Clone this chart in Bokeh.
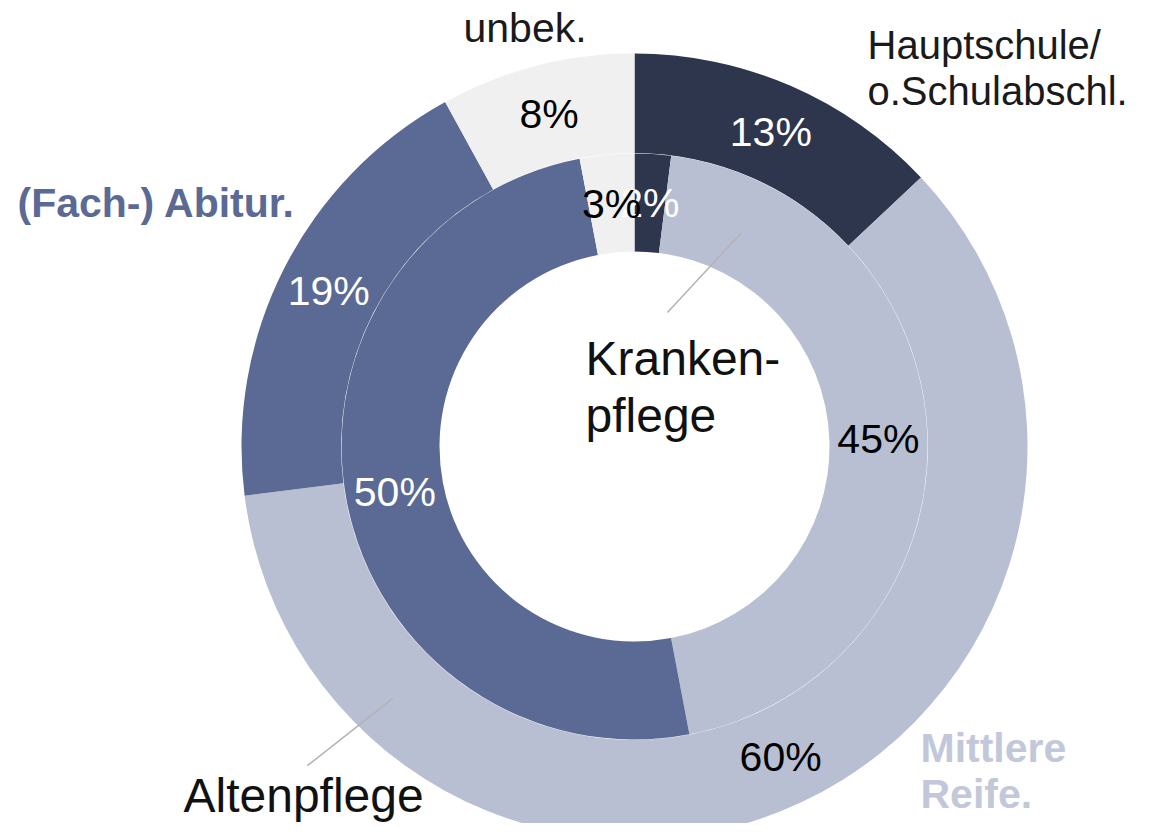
import numpy as np
from bokeh.plotting import figure
from bokeh.models import Range1d, ColumnDataSource
from bokeh.core.properties import value
from bokeh.embed import file_html
from bokeh.resources import INLINE

# ---------------- data ----------------
categories = ["Hauptschule/\no.Schulabschl.", "Mittlere\nReife.", "(Fach-) Abitur.", "unbek."]
altenpflege = [13, 60, 19, 8]      # outer ring
krankenpflege = [2, 45, 50, 3]     # inner ring
ring_names = ["Altenpflege", "Kranken-\npflege"]

# ---------------- style ----------------
colors = ["#2e364e", "#b8bfd3", "#5b6a94", "#f0f0f0"]
pct_colors = ["white", "black", "white", "black"]
cat_colors = ["#1a1a1a", "#c2c8d9", "#5b6a94", "#1a1a1a"]
cat_bold = [False, True, True, False]
cat_size = [40, 41, 41, 41]
FONT = value("Liberation Sans")

W, H = 1134, 823
REF_H = 839
p = figure(width=W, height=H, output_backend="svg", toolbar_location=None,
           x_range=Range1d(0, W), y_range=Range1d(REF_H - H, REF_H),
           min_border=0, outline_line_color=None, background_fill_color="white")
p.axis.visible = False
p.grid.visible = False


def Y(ry):
    return REF_H - ry


CX, CY = 634, Y(446)
OUT_IN, OUT_OUT = 293.4, 393
IN_IN, IN_OUT = 195, 293


def label(x, baseline, txt, size, color, bold=False):
    # place text by its alphabetic baseline (reference px), drawn with a middle anchor
    p.text(x=[x], y=[Y(baseline - 0.35 * size)], text=[txt], text_color=color, text_font=FONT,
           text_font_size=f"{size}px", text_font_style="bold" if bold else "normal",
           text_align="left", text_baseline="middle")


def ring(vals, r_in, r_out):
    v = np.array(vals, float)
    frac = v / v.sum()
    ends = np.cumsum(frac)
    starts = ends - frac
    src = ColumnDataSource(dict(
        start=np.pi / 2 - starts * 2 * np.pi,
        end=np.pi / 2 - ends * 2 * np.pi,
        color=colors,
    ))
    p.annular_wedge(x=CX, y=CY, inner_radius=r_in, outer_radius=r_out,
                    start_angle="start", end_angle="end", direction="clock",
                    fill_color="color", line_color=None, source=src)
    mid = (starts + ends) / 2 * 2 * np.pi
    rm = (r_in + r_out) / 2
    lx = CX + rm * np.sin(mid)
    ly = CY + rm * np.cos(mid)
    for i in range(len(vals)):
        p.text(x=[lx[i]], y=[ly[i]], text=[f"{vals[i]}%"], text_color=pct_colors[i],
               text_font=FONT, text_font_size="41px", text_align="center",
               text_baseline="middle")


ring(altenpflege, OUT_IN, OUT_OUT)
ring(krankenpflege, IN_IN, IN_OUT)

# ---------------- category labels ----------------
cat_pos = [(867, 58), (920, 762), (17, 217), (463, 42)]   # left x, first baseline (ref px)
for name, (lx, lb), col, bold, sz in zip(categories, cat_pos, cat_colors, cat_bold, cat_size):
    for j, line in enumerate(name.split("\n")):
        label(lx, lb + j * 46, line, sz, col, bold)

# ---------------- ring name labels with leader lines ----------------
ring_pos = [(183, 812), (585, 375)]
for name, (lx, lb) in zip(ring_names, ring_pos):
    for j, line in enumerate(name.split("\n")):
        label(lx, lb + j * 57, line, 48, "#111111")

# leader lines as (angle clockwise from top in deg, radius) pairs
leaders = [((225.7, 457), (223.8, 349)),   # Altenpflege -> outer ring
           ((13.8, 138), (26.5, 238))]     # Krankenpflege -> inner ring


def polar(a, r):
    a = np.deg2rad(a)
    return CX + r * np.sin(a), CY + r * np.cos(a)


for (a0, r0), (a1, r1) in leaders:
    x0, y0 = polar(a0, r0)
    x1, y1 = polar(a1, r1)
    p.line(x=[x0, x1], y=[y0, y1], line_color="#b3b3b3", line_width=1.5)

open("out.html", "w").write(file_html(p, INLINE))
